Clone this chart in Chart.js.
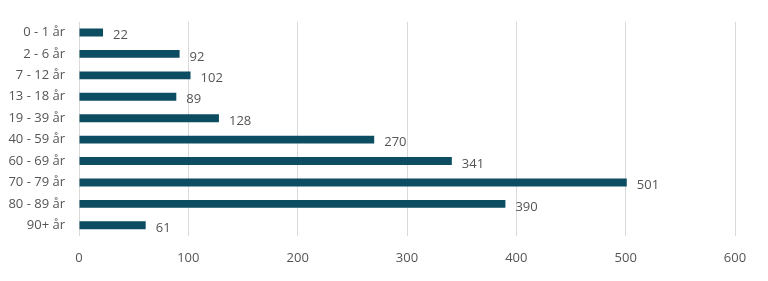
<!DOCTYPE html>
<html>
<head>
<meta charset="utf-8">
<script src="https://cdn.jsdelivr.net/npm/chart.js@4"></script>
<style>
  html, body { margin: 0; padding: 0; background: #fff; }
  #wrap { width: 768px; height: 281px; }
</style>
</head>
<body>
<div id="wrap"><canvas id="chart"></canvas></div>
<script>
// age groups and counts
const categories = ['0 - 1 år', '2 - 6 år', '7 - 12 år', '13 - 18 år', '19 - 39 år', '40 - 59 år', '60 - 69 år', '70 - 79 år', '80 - 89 år', '90+ år'];
const counts = [22, 92, 102, 89, 128, 270, 341, 501, 390, 61];
const xTicks = [0, 100, 200, 300, 400, 500, 600];

const barColor = '#0c4d62';
const textColor = '#555555';
const fontFamily = '"Open Sans", "Noto Sans", sans-serif';

// value labels to the right of each bar
const valueLabels = {
    id: 'valueLabels',
    afterDatasetsDraw(chart) {
        const ctx = chart.ctx;
        const meta = chart.getDatasetMeta(0);
        ctx.save();
        ctx.font = '13px ' + fontFamily;
        ctx.fillStyle = textColor;
        ctx.textAlign = 'left';
        ctx.textBaseline = 'middle';
        meta.data.forEach((bar, i) => {
            ctx.fillText(String(counts[i]), bar.x + 10, bar.y + 3);
        });
        ctx.restore();
    }
};

new Chart(document.getElementById('chart'), {
    type: 'bar',
    data: {
        labels: categories,
        datasets: [{
            data: counts,
            backgroundColor: barColor,
            barPercentage: 0.8,
            categoryPercentage: 0.46
        }]
    },
    options: {
        indexAxis: 'y',
        responsive: true,
        maintainAspectRatio: false,
        animation: false,
        layout: { padding: { left: 0, right: 33, top: 20, bottom: 10 } },
        plugins: {
            legend: { display: false },
            tooltip: { enabled: false }
        },
        scales: {
            x: {
                min: 0,
                max: 600,
                afterBuildTicks: (axis) => { axis.ticks = xTicks.map(v => ({ value: v })); },
                afterFit: (axis) => { axis.height = 35; },
                grid: { color: '#d9d9d9', drawTicks: false },
                border: { display: false },
                ticks: {
                    color: textColor,
                    padding: 14,
                    font: { family: fontFamily, size: 13 }
                }
            },
            y: {
                afterFit: (axis) => { axis.width = 79; },
                grid: { display: false, drawTicks: false },
                border: { display: false },
                ticks: {
                    color: textColor,
                    padding: 14,
                    font: { family: fontFamily, size: 13 }
                }
            }
        }
    },
    plugins: [valueLabels]
});
</script>
</body>
</html>
